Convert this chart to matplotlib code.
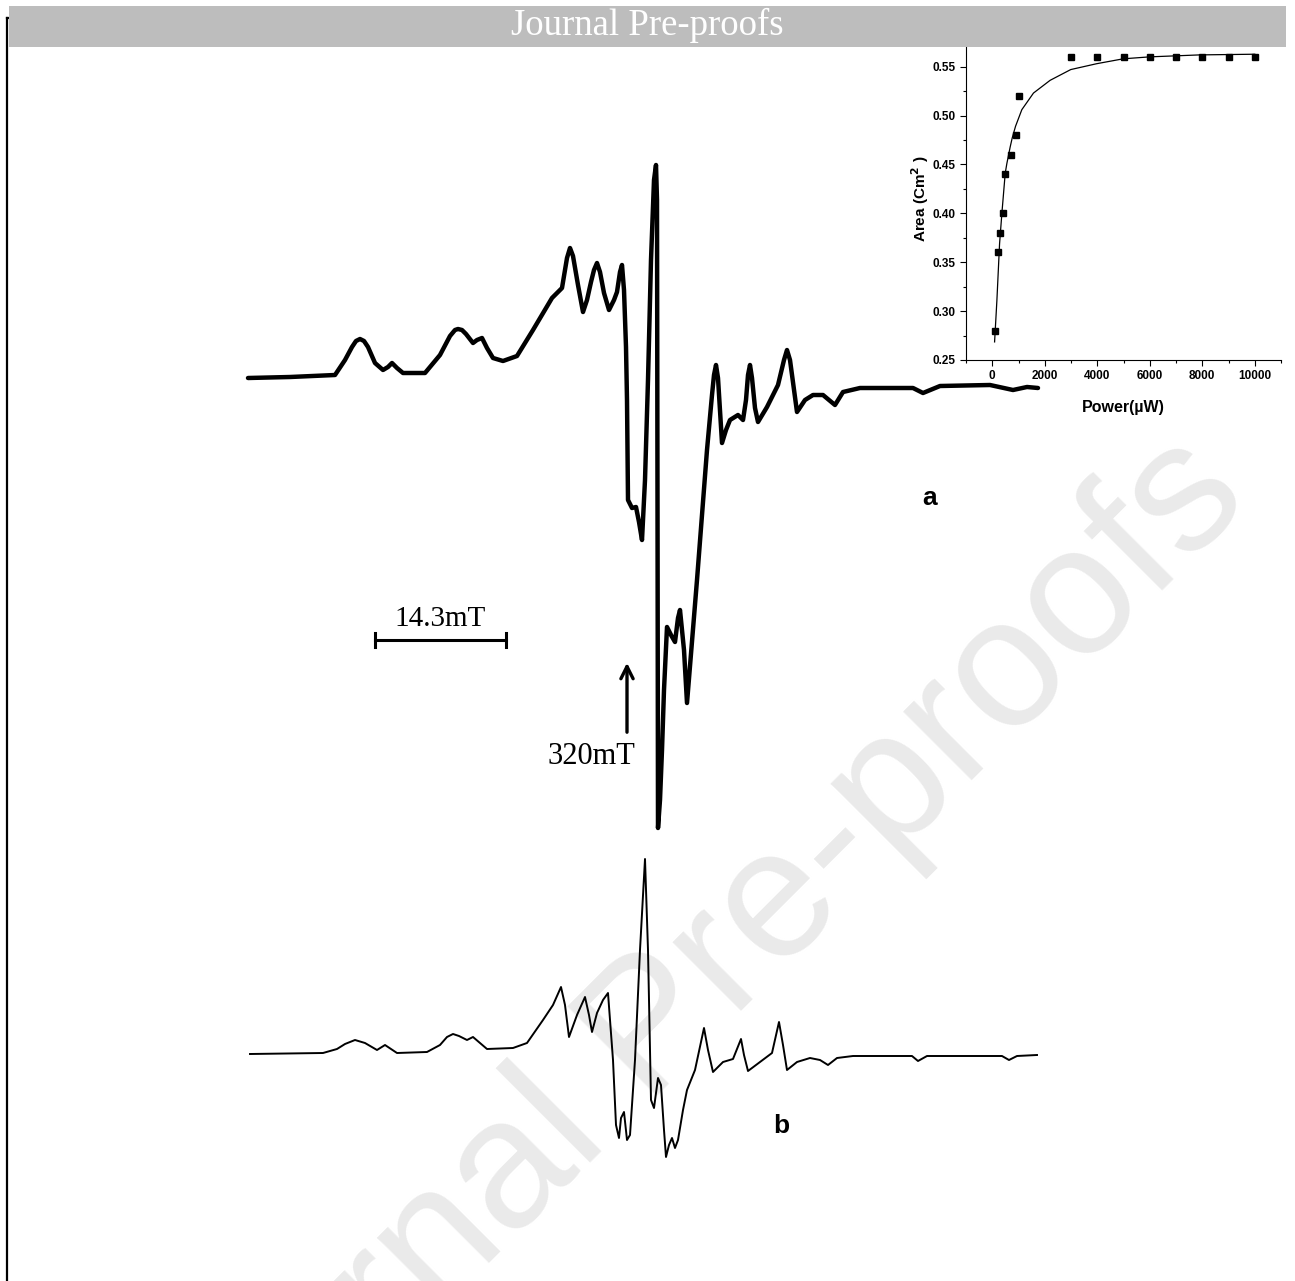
import numpy as np
import matplotlib
matplotlib.use("Agg")
import matplotlib.pyplot as plt
from matplotlib.patches import Rectangle

# inset data: integrated area vs microwave power
power = [100, 200, 300, 400, 500, 700, 900, 1000, 3000, 4000, 5000, 6000, 7000, 8000, 9000, 10000]
area = [0.28, 0.36, 0.38, 0.40, 0.44, 0.46, 0.48, 0.52, 0.56, 0.56, 0.56, 0.56, 0.56, 0.56, 0.56, 0.56]

# fitted curve
fit_power = [89, 177, 279, 367, 494, 557, 684, 760, 887, 1127, 1571, 2204, 2990, 3978, 4990, 6000, 7900, 10000]
fit_area = [0.2685, 0.311, 0.369, 0.400, 0.441, 0.451, 0.468, 0.477, 0.489, 0.506, 0.523, 0.536, 0.547, 0.553, 0.558, 0.560, 0.562, 0.5627]

# spectrum a (experimental), traced in page units
a_field = [248, 290, 335, 345, 352, 356, 360, 364, 368, 375, 383, 388, 392, 397, 403, 425, 440, 450, 455, 458,
           462, 466, 473, 477, 482, 487, 493, 503, 517, 533, 552, 562, 567, 570, 573, 578, 583, 587, 591, 594,
           597, 600, 604, 609, 614, 617, 620, 622, 624, 626, 627, 628, 632, 636, 639, 642, 645, 648, 651, 654,
           656, 657, 657.5, 658, 660, 662, 664, 667, 671, 675, 678, 680, 684, 687, 697, 707, 712, 714, 716, 718,
           722, 726, 730, 738, 743, 746, 748, 750, 752, 755, 758, 767, 778, 784, 787, 790, 797, 805, 813, 823,
           835, 843, 860, 913, 923, 940, 990, 1013, 1027, 1038]
a_signal = [378, 377, 375, 360, 347, 341, 339, 341, 347, 363, 370, 367, 363, 368, 373, 373, 355, 336, 330, 329,
            330, 334, 343, 340, 338, 348, 358, 361, 356, 330, 298, 288, 258, 248, 256, 285, 312, 300, 282, 270,
            263, 272, 293, 310, 300, 292, 272, 265, 290, 347, 400, 500, 508, 507, 522, 540, 480, 380, 260, 180,
            165, 200, 500, 828, 800, 750, 690, 627, 635, 642, 618, 610, 650, 703, 580, 450, 395, 375, 365, 378,
            443, 430, 420, 415, 420, 400, 375, 365, 378, 408, 422, 407, 385, 360, 350, 360, 412, 400, 395, 395,
            405, 392, 388, 388, 393, 386, 385, 390, 387, 388]

# spectrum b (simulated)
b_field = [250, 323, 337, 345, 355, 365, 377, 385, 397, 427, 440, 447, 453, 459, 467, 473, 487, 513, 527, 543,
           553, 561, 565, 569, 577, 585, 589, 592, 597, 603, 608, 613, 616, 619, 621, 624, 627, 630, 635, 640,
           645, 648, 651, 654, 658, 661, 664, 666, 669, 672, 675, 678, 683, 687, 695, 704, 708, 713, 723, 733,
           741, 744, 748, 760, 772, 779, 783, 787, 797, 810, 820, 828, 837, 853, 912, 918, 927, 1002, 1009, 1017,
           1037]
b_signal = [1054, 1053, 1049, 1044, 1040, 1043, 1050, 1045, 1053, 1052, 1045, 1037, 1034, 1036, 1040, 1037, 1049, 1048, 1043, 1020,
            1005, 987, 1005, 1037, 1015, 997, 1015, 1032, 1013, 1000, 993, 1060, 1125, 1138, 1118, 1112, 1140, 1135, 1060, 950,
            859, 950, 1100, 1108, 1078, 1085, 1130, 1157, 1145, 1138, 1148, 1140, 1110, 1090, 1070, 1028, 1050, 1072, 1062, 1059,
            1039, 1055, 1071, 1062, 1053, 1022, 1045, 1070, 1062, 1058, 1060, 1065, 1058, 1056, 1056, 1061, 1056, 1056, 1060, 1056,
            1055]

W, H = 1295, 1281
fig = plt.figure(figsize=(12.95, 12.81), dpi=100)

# inset
ins = fig.add_axes([966 / W, 1 - 360 / H, (1281 - 966) / W, (360 - 37.3) / H], zorder=1)
ins.plot(fit_power, fit_area, color='black', lw=0.9)
ins.plot(power, area, 's', color='black', ms=4.6)
ins.set_xlim(-1000, 11000)
ins.set_ylim(0.25, 0.58)
ins.set_xticks([0, 2000, 4000, 6000, 8000, 10000])
ins.set_xticks(np.arange(-1000, 11001, 1000), minor=True)
ins.set_yticks([0.25, 0.30, 0.35, 0.40, 0.45, 0.50, 0.55])
ins.set_yticks(np.arange(0.275, 0.58, 0.05), minor=True)
ins.yaxis.set_major_formatter(matplotlib.ticker.FormatStrFormatter('%.2f'))
ins.tick_params(which='both', direction='out', labelsize=8.5, width=0.8)
ins.tick_params(which='major', length=4)
ins.tick_params(which='minor', length=2.5)
for lab in ins.get_xticklabels() + ins.get_yticklabels():
    lab.set_fontweight('bold')
    lab.set_family('Liberation Sans')
ins.spines['top'].set_visible(False)
ins.spines['right'].set_visible(False)
ins.set_xlabel('Power(\u00b5W)', fontsize=11.5, fontweight='bold', family='Liberation Sans', labelpad=13)
ins.set_ylabel(r'Area (Cm$^{\mathbf{2}}$ )', fontsize=11, fontweight='bold', family='Liberation Sans', labelpad=1)

# page overlay
ax = fig.add_axes([0, 0, 1, 1], zorder=2)
ax.set_xlim(0, W)
ax.set_ylim(H, 0)
ax.axis('off')

ax.text(685, 1000, 'Journal Pre-proofs', rotation=45, ha='center', va='center',
        fontsize=132, color='#eaeaea', family='Liberation Sans', zorder=0, clip_on=True)

ax.plot(a_field, a_signal, color='black', lw=3.2, solid_joinstyle='round', solid_capstyle='round')
ax.plot(b_field, b_signal, color='black', lw=1.4, solid_joinstyle='round')

# scale bar and field marker
ax.plot([375, 506], [640, 640], color='black', lw=2.2)
ax.plot([375, 375], [633, 647], color='black', lw=2.2)
ax.plot([506, 506], [633, 647], color='black', lw=2.2)
ax.text(440, 626, '14.3mT', ha='center', va='baseline', fontsize=21, family='Liberation Serif')
ax.annotate('', xy=(627, 660), xytext=(627, 735),
            arrowprops=dict(arrowstyle='->', lw=2.4, color='black', mutation_scale=22))
ax.text(591, 764, '320mT', ha='center', va='baseline', fontsize=22, family='Liberation Serif')

ax.text(930, 505, 'a', ha='center', va='baseline', fontsize=19, fontweight='bold', family='Liberation Sans')
ax.text(781, 1133, 'b', ha='center', va='baseline', fontsize=19, fontweight='bold', family='Liberation Sans')

# header bar and page border
ax.add_patch(Rectangle((9, 6), 1277, 41, facecolor='#bdbdbd', edgecolor='none', zorder=5))
ax.text(647, 35, 'Journal Pre-proofs', ha='center', va='baseline', fontsize=26.5,
        color='white', family='Liberation Serif', zorder=6)
ax.plot([6.5, 6.5], [18, 1281], color='black', lw=1.6)
ax.plot([6.5, 9], [18, 18], color='black', lw=1.6)

fig.savefig('out.png', dpi=100)
